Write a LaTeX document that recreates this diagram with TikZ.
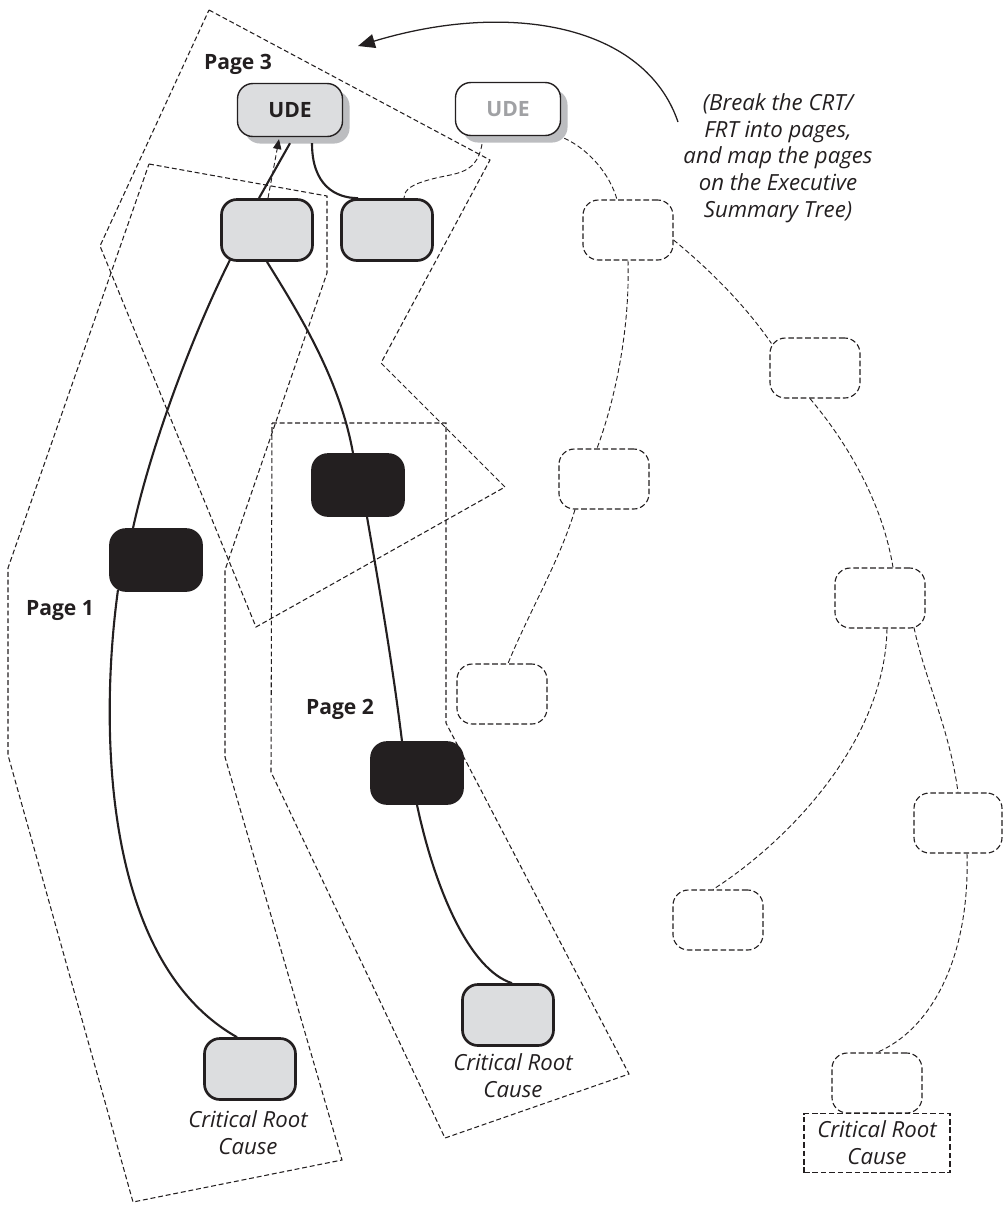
\documentclass[tikz,border=0pt]{standalone}
\usepackage{fontspec}
\setmainfont{Open Sans}
\usetikzlibrary{arrows.meta,shadows,calc}
\definecolor{ink}{RGB}{35,31,32}
\definecolor{boxgray}{RGB}{220,221,223}
\definecolor{shadowgray}{RGB}{188,189,192}
\definecolor{textgray}{RGB}{160,161,164}

\begin{document}
\begin{tikzpicture}[x=0.025cm, y=-0.025cm,
  box/.style={draw=ink, line width=1.9pt, rounded corners=11pt,
    minimum width=2.275cm, minimum height=1.525cm, inner sep=0pt},
  graybox/.style={box, fill=boxgray},
  blackbox/.style={box, fill=ink},
  ghostbox/.style={draw=ink, line width=0.8pt, dash pattern=on 4pt off 2pt,
    rounded corners=11pt, minimum width=2.25cm, minimum height=1.5cm,
    inner sep=0pt, fill=white},
  udebox/.style={draw=ink, line width=1pt, rounded corners=11pt,
    minimum width=2.625cm, minimum height=1.325cm, inner sep=0pt,
    font=\fontsize{15}{19}\selectfont\bfseries,
    drop shadow={shadow xshift=5pt, shadow yshift=-5pt, fill=shadowgray, opacity=1}},
  pagelabel/.style={font=\fontsize{15}{19}\selectfont\bfseries, text=ink, inner sep=0pt},
  caption/.style={font=\fontsize{15.8}{19}\selectfont\itshape, text=ink, align=center, inner sep=0pt},
  link/.style={draw=ink, line width=1.5pt},
  dashedlink/.style={draw=ink, line width=0.65pt, dash pattern=on 3.5pt off 2pt},
  pageframe/.style={draw=ink, line width=0.75pt, dash pattern=on 3.5pt off 2pt}
]
\useasboundingbox (0,0) rectangle (1003,1205);

% page outlines
\draw[pageframe] (209,10) -- (490,160) -- (381,363) -- (505,487) -- (256,627) -- (100,246) -- cycle;
\draw[pageframe] (149,164) -- (327,196) -- (327,273) -- (225,570) -- (225,757) -- (342,1160)
  -- (133,1202) -- (8,755) -- (8,568) -- cycle;
\draw[pageframe] (272,423) -- (446,423) -- (446,723) -- (629,1074) -- (445,1138) -- (271,772) -- cycle;

% page titles
\node[pagelabel] (p3) at (238,64) {Page 3};
\node[pagelabel] (p1) at (60,610) {Page 1};
\node[pagelabel] (p2) at (340,709) {Page 2};

% CRT/FRT page tree
\node[udebox, fill=boxgray, text=ink] (ude) at (290,110) {UDE};
\node[graybox] (a) at (267,230) {};
\node[graybox] (b) at (387,230) {};
\node[blackbox] (k1) at (156,560) {};
\node[blackbox] (k2) at (358,485) {};
\node[blackbox] (k3) at (417,773) {};
\node[graybox] (c1) at (250,1069) {};
\node[graybox] (c2) at (508,1015) {};
\node[caption] (c1cap) at (248,1133) {Critical Root\\Cause};
\node[caption] (c2cap) at (513,1076) {Critical Root\\Cause};

% Executive Summary Tree
\node[udebox, fill=white, text=textgray] (udeW) at (508,109) {UDE};
\node[ghostbox] (e1) at (628,230) {};
\node[ghostbox] (e2) at (815,368) {};
\node[ghostbox] (e3) at (604,479) {};
\node[ghostbox] (e4) at (880,598) {};
\node[ghostbox] (e5) at (502,694) {};
\node[ghostbox, minimum width=2.2cm] (e6) at (958,823) {};
\node[ghostbox] (e7) at (718,920) {};
\node[ghostbox] (e8) at (877,1083) {};
\node[caption, draw=ink, line width=0.8pt, dash pattern=on 4pt off 2pt,
  minimum width=3.65cm, minimum height=1.475cm] (crc) at (877,1143) {Critical Root\\Cause};

% note and its arrow
\node[caption] (note) at (778,158) {(Break the CRT/\\FRT into pages,\\and map the pages\\on the Executive\\Summary Tree)};
\coordinate (arcfrom) at (678,122);
\coordinate (arcto) at (358,46);
\draw[draw=ink, line width=0.9pt, -{Triangle[length=12pt,width=10pt]}]
  (arcfrom) .. controls (645,25) and (510,0) .. (arcto);

% solid links of the page tree
\draw[link] ($(a.north)+(-8,0)$) -- ($(ude.south)+(0,6)$);
\draw[dashedlink, -{Triangle[length=7pt,width=6pt]}] ($(a.north)+(1,0)$) -- ($(ude.south)+(-11,2)$);
\draw[link] ($(ude.south)+(22,6)$) .. controls (312,185) and (335,198) .. ($(b.north)+(-29,0)$);
\draw[link] ($(a.south)+(-37,-2)$) .. controls (190,340) and (150,450) .. ($(k1.north)+(-23,0)$);
\draw[link] ($(k1.south)+(-38,-2)$) .. controls (100,720) and (100,960) .. ($(c1.north)+(-13,0)$);
\draw[link] (a.south) .. controls (300,315) and (340,380) .. ($(k2.north)+(-5,0)$);
\draw[link] ($(k2.south)+(9,0)$) .. controls (378,580) and (392,660) .. ($(k3.north)+(-15,0)$);
\draw[link] (k3.south) .. controls (435,890) and (470,970) .. ($(c2.north)+(4,0)$);

% dashed links of the summary tree
\draw[dashedlink] ($(udeW.south)+(-26,8)$) .. controls (476,178) and (452,172) .. (425,181)
  .. controls (408,186) and (404,192) .. ($(b.north)+(17,0)$);
\draw[dashedlink] ($(udeW.south east)+(3,2)$) .. controls (590,150) and (610,175) .. ($(e1.north)+(-11,0)$);
\draw[dashedlink] ($(e1.east)+(0,10)$) .. controls (710,270) and (745,305) .. ($(e2.north west)+(2,6)$);
\draw[dashedlink] (e1.south) .. controls (630,330) and (615,400) .. ($(e3.north)+(-7,0)$);
\draw[dashedlink] ($(e3.south)+(-29,0)$) .. controls (560,560) and (530,610) .. ($(e5.north)+(6,0)$);
\draw[dashedlink] ($(e2.south)+(-5,0)$) .. controls (845,440) and (882,500) .. ($(e4.north)+(13,0)$);
\draw[dashedlink] ($(e4.south)+(34,-1)$) .. controls (925,680) and (950,730) .. (e6.north);
\draw[dashedlink] ($(e4.south)+(7,0)$) .. controls (885,740) and (790,840) .. ($(e7.north)+(-5,0)$);
\draw[dashedlink] ($(e6.south)+(9,0)$) .. controls (970,960) and (930,1030) .. (e8.north);
\end{tikzpicture}
\end{document}
